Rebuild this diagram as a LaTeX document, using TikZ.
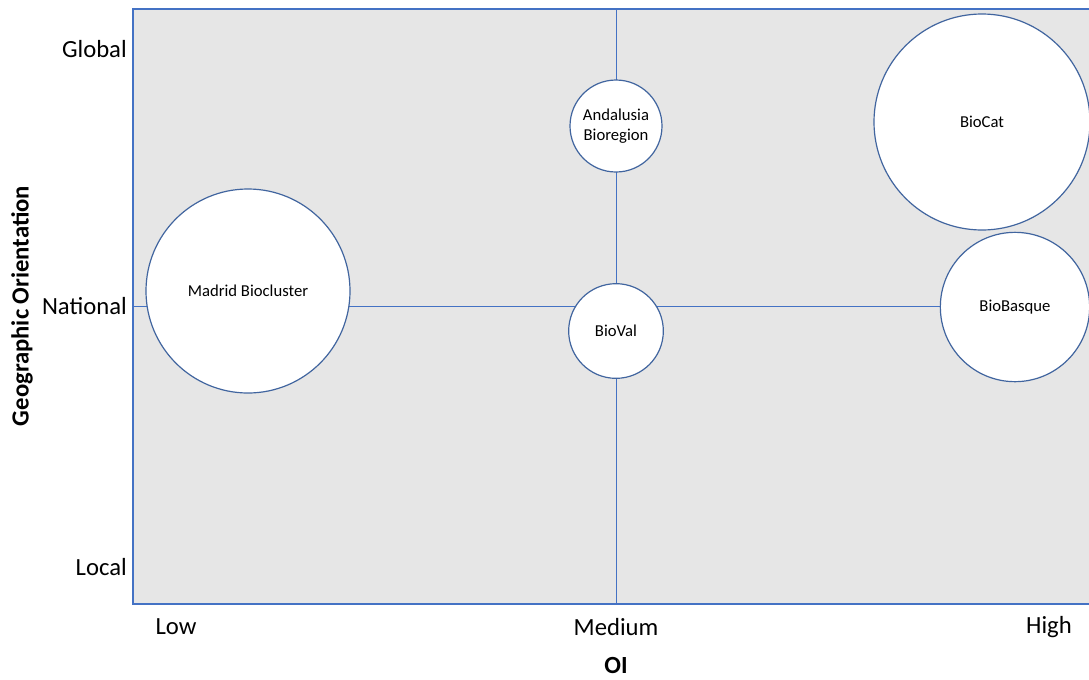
\documentclass[tikz,border=0pt]{standalone}
\usepackage{fontspec}
\setmainfont{Carlito}
\usetikzlibrary{positioning}
\definecolor{gridblue}{HTML}{4472C4}
\definecolor{rimblue}{HTML}{41659F}
\definecolor{plotgray}{HTML}{E6E6E6}
\tikzset{bub/.style={draw=rimblue, line width=0.9pt, circle, fill=white, inner sep=0pt, align=center, font=\fontsize{12.5}{15}\selectfont}}
\tikzset{tick/.style={font=\fontsize{18.5}{20}\selectfont, inner sep=0pt}}
\tikzset{ttl/.style={font=\bfseries\fontsize{18.5}{20}\selectfont, inner sep=0pt}}
\tikzset{gridline/.style={draw=gridblue, line width=0.75pt}}

\begin{document}
\begin{tikzpicture}[x=0.75pt, y=-0.75pt]
\useasboundingbox (0,0) rectangle (1089,679);
\fill[plotgray] (133,9) rectangle (1089,604);

\coordinate (tr) at (1089,9);
\coordinate (tl) at (133,9);
\coordinate (bl) at (133,604);
\coordinate (br) at (1089,604);
\coordinate (top) at (616,9);
\coordinate (bot) at (616,604);
\coordinate (lft) at (133,306);
\coordinate (rgt) at (1015,306);

\draw[gridline] (top) -- (bot);
\draw[gridline] (lft) -- (rgt);
\draw[draw=gridblue, line width=1pt] (tr) -- (tl) -- (bl) -- (br);

% bubbles
\node[bub, minimum size=153pt] (madrid) at (248,291) {Madrid Biocluster};
\node[bub, minimum size=69pt] (andalusia) at (616,126) {Andalusia\\Bioregion};
\node[bub, minimum size=71pt] (bioval) at (616,331) {BioVal};
\node[bub, minimum size=162pt] (biocat) at (982,122) {BioCat};
\node[bub, minimum size=112pt] (biobasque) at (1015,307) {BioBasque};

% axes
\node[tick, anchor=east] (global) at (127,49) {Global};
\node[tick, anchor=east] (national) at (127,306) {National};
\node[tick, anchor=east] (local) at (127,567) {Local};
\node[tick] (low) at (176,627) {Low};
\node[tick] (medium) at (616,627) {Medium};
\node[tick] (high) at (1049,627) {High};
\node[ttl] (oi) at (616,665) {OI};
\node[ttl, rotate=90] (geo) at (22,306) {Geographic Orientation};
\end{tikzpicture}
\end{document}
